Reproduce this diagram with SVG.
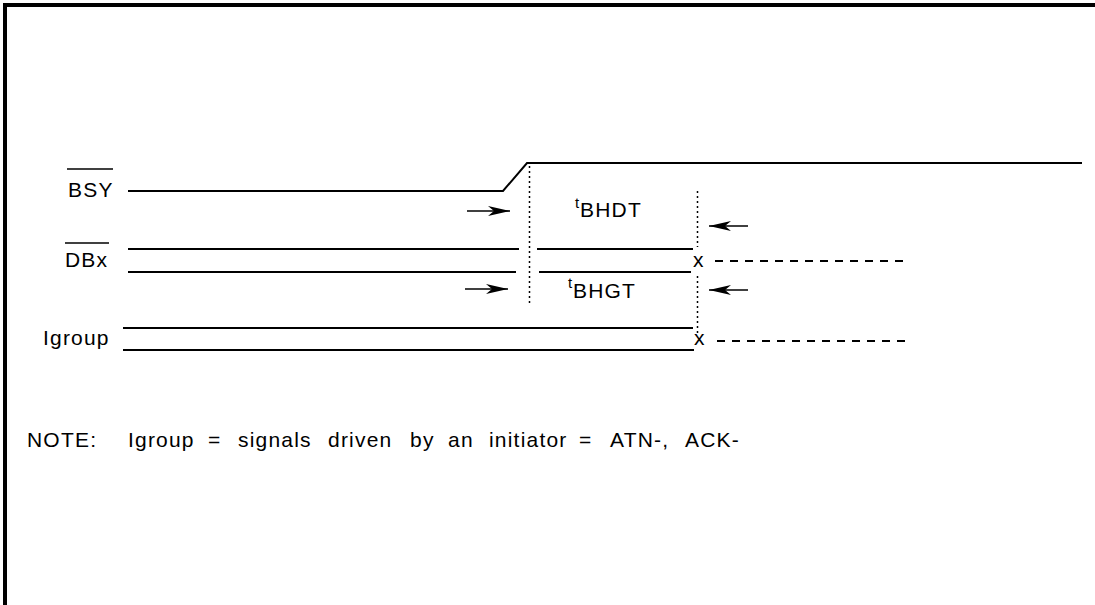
<svg xmlns="http://www.w3.org/2000/svg" width="1095" height="605" viewBox="0 0 1095 605">
<style>
  .sig { stroke:#000; stroke-width:2; fill:none; }
  .ovl { stroke:#000; stroke-width:1.6; fill:none; }
  .dot { stroke:#000; stroke-width:1.5; fill:none; stroke-dasharray:2,3; }
  .dash { stroke:#000; stroke-width:2; fill:none; stroke-dasharray:8,7; }
  .arr { stroke:#000; stroke-width:1.5; fill:none; marker-end:url(#ah); }
  .lbl { font-family:"Liberation Sans", Arial, sans-serif; font-size:21px; letter-spacing:1.2px; fill:#000; }
  .sub { font-family:"Liberation Sans", Arial, sans-serif; font-size:15px; fill:#000; }
</style>
<defs>
  <marker id="ah" viewBox="0 0 22 10" refX="22" refY="5" markerWidth="22" markerHeight="10" markerUnits="userSpaceOnUse" orient="auto">
    <path d="M0,0 L22,5 L0,10 L6,5 Z" fill="#000"/>
  </marker>
</defs>
<rect width="1095" height="605" fill="#fff"/>
<g id="frame">
  <line x1="3" y1="5" x2="1095" y2="5" stroke="#000" stroke-width="4"/>
  <line x1="5" y1="3" x2="5" y2="605" stroke="#000" stroke-width="4"/>
</g>
<g id="bsy">
  <text class="lbl" x="68" y="197">BSY</text>
  <line class="ovl" x1="67" y1="169" x2="113" y2="169"/>
  <polyline class="sig" points="128,191 503,191 527,163 1082,163"/>
</g>
<g id="dbx">
  <text class="lbl" x="65" y="267">DBx</text>
  <line class="ovl" x1="65" y1="243" x2="109" y2="243"/>
  <line class="sig" x1="128" y1="249" x2="519" y2="249"/>
  <line class="sig" x1="128" y1="272" x2="516" y2="272"/>
  <line class="sig" x1="537" y1="249" x2="693" y2="249"/>
  <line class="sig" x1="539" y1="272" x2="691" y2="272"/>
  <text class="lbl" x="693" y="267">x</text>
  <line class="dash" x1="715" y1="261" x2="910" y2="261"/>
</g>
<g id="igroup">
  <text class="lbl" x="43" y="345">Igroup</text>
  <line class="sig" x1="123" y1="328" x2="693" y2="328"/>
  <line class="sig" x1="123" y1="350" x2="694" y2="350"/>
  <text class="lbl" x="694" y="345">x</text>
  <line class="dash" x1="717" y1="341" x2="910" y2="341"/>
</g>
<g id="tbhdt">
  <text><tspan class="sub" x="575" y="208">t</tspan><tspan class="lbl" x="580" y="217">BHDT</tspan></text>
</g>
<g id="tbhgt">
  <text><tspan class="sub" x="568" y="288">t</tspan><tspan class="lbl" x="573" y="298">BHGT</tspan></text>
</g>
<g id="connectors">
  <line class="dot" x1="529.5" y1="166" x2="529.5" y2="303"/>
  <line class="dot" x1="697.5" y1="191" x2="697.5" y2="247"/>
  <line class="dot" x1="697.5" y1="276" x2="697.5" y2="333"/>
  <line class="arr" x1="467" y1="211" x2="510" y2="211"/>
  <line class="arr" x1="465" y1="289" x2="508" y2="289"/>
  <line class="arr" x1="748" y1="226" x2="709" y2="226"/>
  <line class="arr" x1="748" y1="290" x2="709" y2="290"/>
</g>
<g id="note">
  <text class="lbl" y="447"><tspan x="27">NOTE:</tspan><tspan x="128">Igroup</tspan><tspan x="208">=</tspan><tspan x="238">signals</tspan><tspan x="328">driven</tspan><tspan x="410">by</tspan><tspan x="448">an</tspan><tspan x="489">initiator</tspan><tspan x="579">=</tspan><tspan x="610">ATN-,</tspan><tspan x="685">ACK-</tspan></text>
</g>
</svg>
